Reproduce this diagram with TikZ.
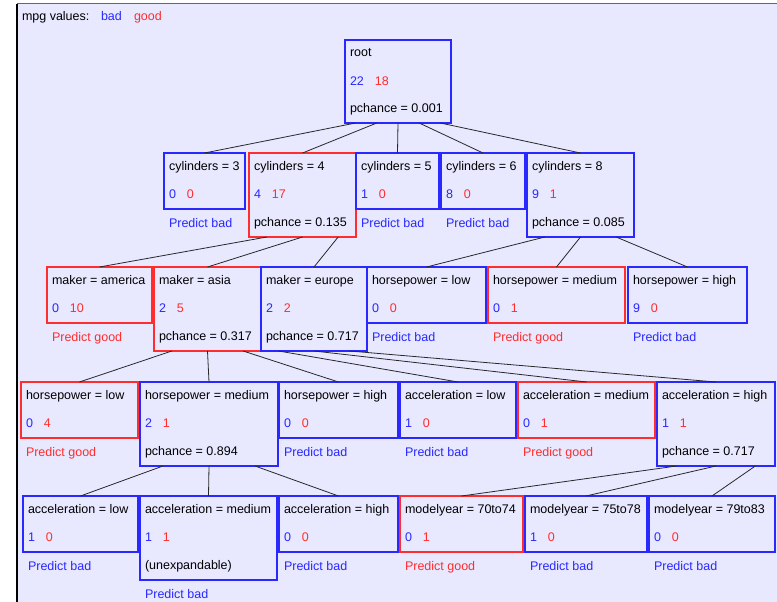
\documentclass[tikz,border=0pt]{standalone}
\usepackage{fontspec}
\setmainfont{Liberation Sans}
\usetikzlibrary{calc}
\definecolor{bcol}{RGB}{40,40,255}
\definecolor{rcol}{RGB}{255,45,45}
\definecolor{bgcol}{RGB}{232,232,255}
\definecolor{edgecol}{RGB}{40,40,40}
\tikzset{
  box/.style={rectangle, anchor=north west, inner sep=0pt, outer sep=0pt, line width=1.2pt},
  txt/.style={anchor=base west, inner sep=0pt, outer sep=0pt, font=\fontsize{12.5}{14}\selectfont},
  edge/.style={draw=edgecol, line width=0.8pt},
}
\newcommand\TBox[9]{%
  \node[box, draw=#6, minimum width=#4pt, minimum height=#5pt] (#1) at (#2,#3) {};
  \node[txt] (#1-t) at ([xshift=5pt,yshift=-17pt]#1.north west) {#7};
  \node[txt] (#1-c) at ([xshift=5pt,yshift=-45pt]#1.north west) {\textcolor{bcol}{#8}\hspace{11pt}\textcolor{rcol}{#9}};
}
\newcommand\TThird[2]{\node[txt] (#1-x) at ([xshift=5pt,yshift=-73pt]#1.north west) {#2};}
\newcommand\TPred[3]{\node[txt, text=#2] (#1-pred) at ([xshift=5pt,yshift=-18pt]#1.south west) {Predict #3};}
\newcommand\TEdge[3]{\draw[edge] ($(#1.south west)!#3!(#1.south east)$) -- (#2.north);}
\begin{document}
\begin{tikzpicture}[x=1pt,y=-1pt]
\useasboundingbox (0,0) rectangle (777,602);
\fill[white] (0,0) rectangle (777,602);
\fill[bgcol] (17,4) rectangle (777,602);
\draw[black!60, line width=1pt] (17,4) -- (777,4);
\draw[black, line width=1.2pt] (17,4) -- (17,602);

\node[txt] (hdr) at (22,21) {mpg values:};
\node[txt, text=bcol] (hdrbad) at (101,21) {bad};
\node[txt, text=rcol] (hdrgood) at (134,21) {good};

% level 0
\TBox{root}{345}{40}{106}{83}{bcol}{root}{22}{18}
\TThird{root}{pchance = 0.001}

% level 1
\TBox{c3}{164}{153}{81}{56}{bcol}{cylinders = 3}{0}{0}
\TPred{c3}{bcol}{bad}
\TBox{c4}{249}{153}{107}{84}{rcol}{cylinders = 4}{4}{17}
\TThird{c4}{pchance = 0.135}
\TBox{c5}{356}{153}{83}{56}{bcol}{cylinders = 5}{1}{0}
\TPred{c5}{bcol}{bad}
\TBox{c6}{441}{153}{84}{56}{bcol}{cylinders = 6}{8}{0}
\TPred{c6}{bcol}{bad}
\TBox{c8}{527}{153}{107}{84}{bcol}{cylinders = 8}{9}{1}
\TThird{c8}{pchance = 0.085}

% level 2
\TBox{mam}{47}{267}{105}{56}{rcol}{maker = america}{0}{10}
\TPred{mam}{rcol}{good}
\TBox{mas}{154}{267}{107}{84}{rcol}{maker = asia}{2}{5}
\TThird{mas}{pchance = 0.317}
\TBox{meu}{261}{267}{106}{84}{bcol}{maker = europe}{2}{2}
\TThird{meu}{pchance = 0.717}
\TBox{hl}{367}{267}{119}{56}{bcol}{horsepower = low}{0}{0}
\TPred{hl}{bcol}{bad}
\TBox{hm}{488}{267}{137}{56}{rcol}{horsepower = medium}{0}{1}
\TPred{hm}{rcol}{good}
\TBox{hh}{628}{267}{119}{56}{bcol}{horsepower = high}{9}{0}
\TPred{hh}{bcol}{bad}

% level 3
\TBox{ahl}{21}{382}{117}{56}{rcol}{horsepower = low}{0}{4}
\TPred{ahl}{rcol}{good}
\TBox{ahm}{140}{382}{138}{84}{bcol}{horsepower = medium}{2}{1}
\TThird{ahm}{pchance = 0.894}
\TBox{ahh}{279}{382}{119}{56}{bcol}{horsepower = high}{0}{0}
\TPred{ahh}{bcol}{bad}
\TBox{eal}{400}{382}{116}{56}{bcol}{acceleration = low}{1}{0}
\TPred{eal}{bcol}{bad}
\TBox{eam}{518}{382}{137}{56}{rcol}{acceleration = medium}{0}{1}
\TPred{eam}{rcol}{good}
\TBox{eah}{657}{382}{118}{84}{bcol}{acceleration = high}{1}{1}
\TThird{eah}{pchance = 0.717}

% level 4
\TBox{bl}{23}{496}{115}{56}{bcol}{acceleration = low}{1}{0}
\TPred{bl}{bcol}{bad}
\TBox{bm}{140}{496}{137}{84}{bcol}{acceleration = medium}{1}{1}
\TThird{bm}{(unexpandable)}
\TPred{bm}{bcol}{bad}
\TBox{bh}{279}{496}{119}{56}{bcol}{acceleration = high}{0}{0}
\TPred{bh}{bcol}{bad}
\TBox{my1}{400}{496}{123}{56}{rcol}{modelyear = 70to74}{0}{1}
\TPred{my1}{rcol}{good}
\TBox{my2}{525}{496}{122}{56}{bcol}{modelyear = 75to78}{1}{0}
\TPred{my2}{bcol}{bad}
\TBox{my3}{649}{496}{126}{56}{bcol}{modelyear = 79to83}{0}{0}
\TPred{my3}{bcol}{bad}

% edges
\TEdge{root}{c3}{0.1}
\TEdge{root}{c4}{0.3}
\TEdge{root}{c5}{0.5}
\TEdge{root}{c6}{0.7}
\TEdge{root}{c8}{0.9}
\TEdge{c4}{mam}{0.1667}
\TEdge{c4}{mas}{0.5}
\TEdge{c4}{meu}{0.8333}
\TEdge{c8}{hl}{0.1667}
\TEdge{c8}{hm}{0.5}
\TEdge{c8}{hh}{0.8333}
\TEdge{mas}{ahl}{0.1667}
\TEdge{mas}{ahm}{0.5}
\TEdge{mas}{ahh}{0.8333}
\TEdge{meu}{eal}{0.1667}
\TEdge{meu}{eam}{0.5}
\TEdge{meu}{eah}{0.8333}
\TEdge{ahm}{bl}{0.1667}
\TEdge{ahm}{bm}{0.5}
\TEdge{ahm}{bh}{0.8333}
\TEdge{eah}{my1}{0.1667}
\TEdge{eah}{my2}{0.5}
\TEdge{eah}{my3}{0.8333}
\end{tikzpicture}
\end{document}
